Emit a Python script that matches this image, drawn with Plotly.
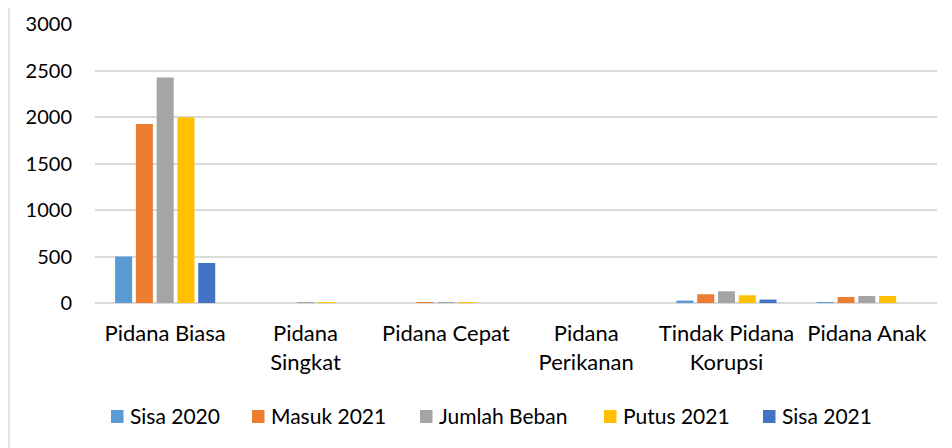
import plotly.graph_objects as go

categories = ["Pidana Biasa", "Pidana<br>Singkat", "Pidana Cepat", "Pidana<br>Perikanan",
              "Tindak Pidana<br>Korupsi", "Pidana Anak"]
sisa_2020 = [500, 0, 0, 0, 26, 8]
masuk_2021 = [1924, 0, 2, 0, 94, 65]
jumlah_beban = [2426, 1, 2, 0, 126, 75]
putus_2021 = [1996, 1, 2, 0, 83, 75]
sisa_2021 = [430, 0, 0, 0, 37, 0]

series_names = ["Sisa 2020", "Masuk 2021", "Jumlah Beban", "Putus 2021", "Sisa 2021"]
series_values = [sisa_2020, masuk_2021, jumlah_beban, putus_2021, sisa_2021]
series_colors = ["#5B9BD5", "#ED7D31", "#A5A5A5", "#FFC000", "#4472C4"]

fig = go.Figure()
for name, vals, col in zip(series_names, series_values, series_colors):
    fig.add_trace(go.Bar(x=categories, y=vals, name=name, showlegend=False,
                         marker=dict(color=col, line=dict(width=0))))

# page body has an 8px default margin; compensate
OFF = 8
W, H = 944, 440
ml, mr, mt, mb = 87, 15, 16, 145
pw, ph = W - ml - mr, H - mt - mb


def px_x(ax):  # absolute page x -> paper
    return (ax - OFF - ml) / pw


def px_y(ay):  # absolute page y -> paper
    return (H - mb + OFF - ay) / ph


# manual legend (layout positions in page pixels)
legend_left = [111, 252, 420, 604, 763]
legend_y = 416.5
shapes = []
annotations = []
for name, col, lx in zip(series_names, series_colors, legend_left):
    shapes.append(dict(type="rect", xref="paper", yref="paper",
                       x0=px_x(lx), x1=px_x(lx + 12.5), y0=px_y(legend_y - 6.5), y1=px_y(legend_y + 6.5),
                       fillcolor=col, line=dict(width=0)))
    annotations.append(dict(text=name, xref="paper", yref="paper", x=px_x(lx + 17), y=px_y(legend_y - 1),
                            xanchor="left", yanchor="middle", showarrow=False,
                            font=dict(size=21, color="#000000")))

shapes.append(dict(type="line", xref="paper", yref="paper",
                   x0=px_x(OFF + 1), x1=px_x(OFF + 1), y0=px_y(OFF), y1=px_y(OFF + H),
                   line=dict(color="#D9D9D9", width=1.5)))

fig.update_layout(
    width=W, height=H,
    margin=dict(l=ml, r=mr, t=mt, b=mb, pad=0, autoexpand=False),
    paper_bgcolor="white", plot_bgcolor="white",
    font=dict(family="Lato, Carlito, sans-serif", size=20, color="#000000"),
    barmode="group", bargap=0.26, bargroupgap=0.18,
    showlegend=False,
    yaxis=dict(range=[0, 3000], dtick=500, showgrid=True, gridcolor="#D9D9D9", gridwidth=1.5,
               zeroline=True, zerolinecolor="#D9D9D9", zerolinewidth=1.5,
               ticks="", ticklabelstandoff=22, showline=False, tickfont=dict(size=20)),
    xaxis=dict(showgrid=False, ticks="", showline=False, tickangle=0, ticklabelstandoff=15,
               tickfont=dict(size=22)),
    shapes=shapes,
    annotations=annotations,
)

fig.write_html("out.html")
